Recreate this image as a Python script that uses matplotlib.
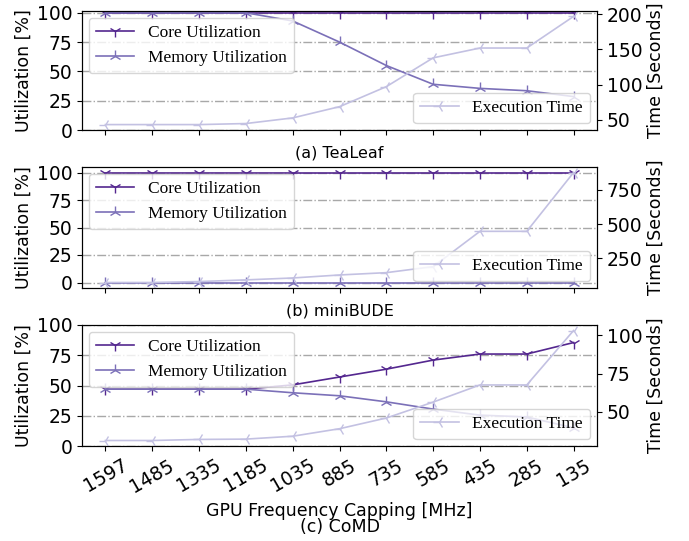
import matplotlib
matplotlib.use("Agg")
import matplotlib.pyplot as plt

freqs = ["1597", "1485", "1335", "1185", "1035", "885", "735", "585", "435", "285", "135"]

tealeaf_core = [100, 100, 100, 100, 100, 100, 100, 100, 100, 100, 100]
tealeaf_mem = [100, 100, 100, 100, 93, 75, 55, 39, 35.5, 33.5, 28.5]
tealeaf_time = [43, 43, 43, 44.5, 52.5, 68.5, 97, 138, 152, 152, 197]

minibude_core = [100, 100, 100, 100, 100, 100, 100, 100, 100, 100, 100]
minibude_mem = [0, 0, 0, 0, 0, 0, 0, 0, 0, 0, 0]
minibude_time = [73, 73, 80, 92, 106, 128, 145, 189, 447, 447, 877]

comd_core = [47, 47, 47, 47, 50.5, 57, 63.5, 71, 76, 76, 85.5]
comd_mem = [47, 47, 47, 47, 44, 41.5, 36.5, 30.5, 25.5, 24, 15]
comd_time = [31.3, 31.3, 32, 32.2, 34.1, 39, 46, 56.4, 67.6, 67.6, 103.2]

captions = ["(a) TeaLeaf", "(b) miniBUDE", "(c) CoMD"]

c_core = "#54278f"
c_mem = "#7b70b8"
c_time = "#c3c1e2"

W, H = 689, 541
fig = plt.figure(figsize=(W / 100, H / 100), dpi=100)

panels = [
    (tealeaf_core, tealeaf_mem, tealeaf_time, (0, 101.5), [0, 25, 50, 75, 100], [50, 100, 150, 200]),
    (minibude_core, minibude_mem, minibude_time, None, [0, 25, 50, 75, 100], [250, 500, 750]),
    (comd_core, comd_mem, comd_time, (0, 100), [0, 25, 50, 75, 100], [50, 75, 100]),
]
boxes = [(11, 130), (167, 288), (325, 446)]
left, right = 82, 597
serif = {"family": "Liberation Serif", "size": 12.5}
x = list(range(len(freqs)))
fs = 13.5
lfs = 12.5

for i, (core, mem, tm, ylim, lt, rt) in enumerate(panels):
    top, bot = boxes[i]
    ax = fig.add_axes([left / W, (H - bot) / H, (right - left) / W, (bot - top) / H])
    ax.plot(x, core, color=c_core, marker="1", markersize=9, lw=1.2, label="Core Utilization")
    ax.plot(x, mem, color=c_mem, marker="2", markersize=9, lw=1.2, label="Memory Utilization")
    if ylim is not None:
        ax.set_ylim(*ylim)
    ax.set_yticks(lt)
    ax.grid(axis="y", linestyle="-.", color="#a8a8a8", lw=1)
    ax.set_xlim(-0.5, len(freqs) - 0.5)
    ax.set_xticks(x)
    ax.set_ylabel("Utilization [%]", fontsize=lfs, labelpad=3)
    ax.tick_params(labelsize=fs)
    ax2 = ax.twinx()
    ax2.plot(x, tm, color=c_time, marker="3", markersize=9, lw=1.2, label="Execution Time")
    ax2.set_yticks(rt)
    ax2.set_ylabel("Time [Seconds]", fontsize=lfs, labelpad=3)
    ax2.tick_params(labelsize=fs)
    ax.legend(loc="upper left", prop=serif, borderaxespad=0.4, handlelength=2.2)
    ax2.legend(loc="lower right", prop=serif, borderaxespad=0.4, handlelength=2.2)
    if i < 2:
        ax.set_xticklabels([])
        ax.set_xlabel(captions[i], fontsize=11.5, labelpad=4)
    else:
        ax.set_xticklabels(freqs, rotation=30)
        ax.set_xlabel("GPU Frequency Capping [MHz]\n" + captions[i], fontsize=lfs, linespacing=0.9)

fig.savefig("out.png", dpi=100)
